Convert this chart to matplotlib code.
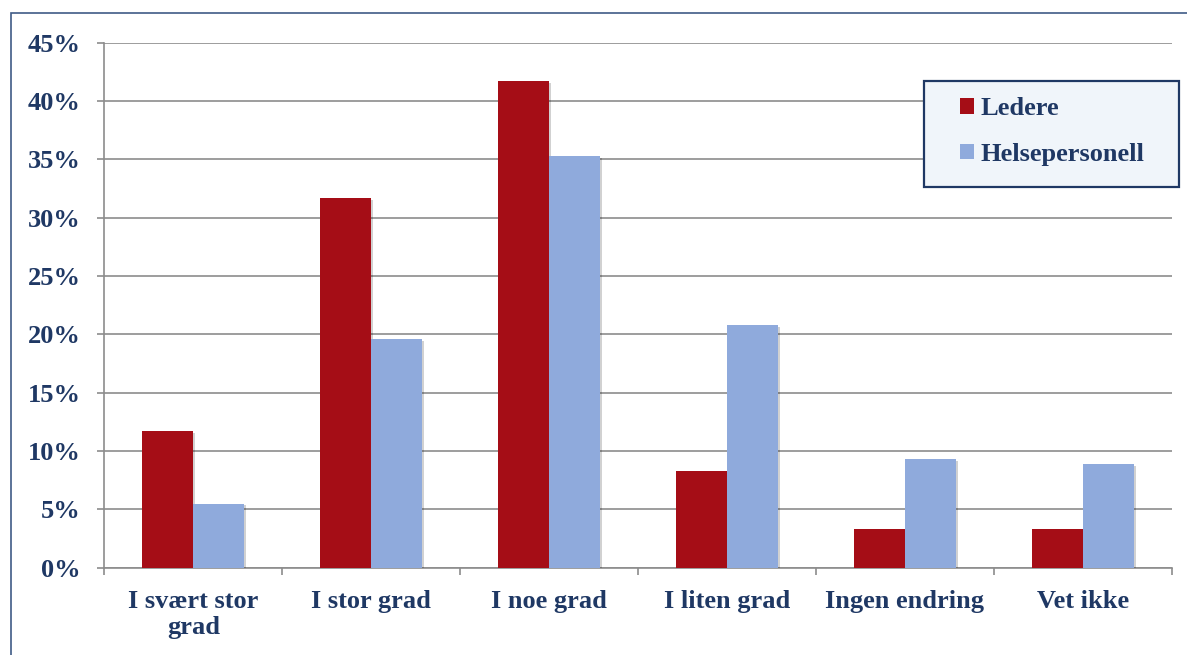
import matplotlib
matplotlib.use("Agg")
import matplotlib.pyplot as plt
import matplotlib.patheffects as pe
from matplotlib.patches import Rectangle
from matplotlib.ticker import FixedLocator, FuncFormatter
import numpy as np

categories = ["I svært stor\ngrad", "I stor grad", "I noe grad",
              "I liten grad", "Ingen endring", "Vet ikke"]
ledere = [11.7, 31.7, 41.7, 8.3, 3.3, 3.3]
helsepersonell = [5.5, 19.6, 35.3, 20.8, 9.3, 8.9]
series_names = ["Ledere", "Helsepersonell"]
yticks = [0, 5, 10, 15, 20, 25, 30, 35, 40, 45]

RED = "#A50D16"
BLUE = "#8FAADC"
NAVY = "#1F3864"
GRID = "#8C8C8C"
FONT = "Liberation Serif"
FS = 19

W, H = 1187, 655
fig = plt.figure(figsize=(W / 100, H / 100), dpi=100)
ax = fig.add_axes([104.3 / W, 1 - 567.7 / H, (1171.7 - 104.3) / W, (567.7 - 42.7) / H])

x = np.arange(len(categories))
bw = 0.2867
shadow = [pe.SimplePatchShadow(offset=(1.5, -1.2), shadow_rgbFace="black", alpha=0.18), pe.Normal()]
b1 = ax.bar(x - bw / 2, ledere, bw, color=RED, label=series_names[0], zorder=3)
b2 = ax.bar(x + bw / 2, helsepersonell, bw, color=BLUE, label=series_names[1], zorder=3)
for bar in list(b1) + list(b2):
    bar.set_path_effects(shadow)

ax.set_xlim(-0.5, len(categories) - 0.5)
ax.set_ylim(0, 45)
ax.set_yticks(yticks)
ax.yaxis.set_major_formatter(FuncFormatter(lambda v, p: f"{int(v)}%"))
ax.grid(axis="y", color=GRID, lw=1.2, zorder=0)
ax.set_axisbelow(True)

for s in ["top", "right"]:
    ax.spines[s].set_visible(False)
for s in ["left", "bottom"]:
    ax.spines[s].set_color(GRID)
    ax.spines[s].set_linewidth(1.2)

ax.tick_params(axis="y", direction="out", length=5, width=1.2, color=GRID, pad=12,
               labelsize=FS, labelcolor=NAVY)
ax.set_xticks(x)
ax.set_xticklabels(categories, linespacing=1.15)
ax.tick_params(axis="x", which="major", length=0, pad=16, labelsize=FS, labelcolor=NAVY)
ax.xaxis.set_minor_locator(FixedLocator(np.arange(-0.5, len(categories), 1.0)))
ax.tick_params(axis="x", which="minor", direction="out", length=5, width=1.2, color=GRID)

for lab in ax.get_xticklabels() + ax.get_yticklabels():
    lab.set_fontfamily(FONT)
    lab.set_fontweight("bold")

# legend box
fig.add_artist(Rectangle((924.3 / W, 1 - 186.7 / H), (1179.3 - 924.3) / W, (186.7 - 80.7) / H,
                         transform=fig.transFigure, facecolor="#F0F5FA", edgecolor="#1F3864",
                         lw=1.6, zorder=5))
leg = fig.legend(handles=[b1, b2], labels=series_names, loc="center left",
                 bbox_to_anchor=(960 / W, 1 - 131.5 / H), bbox_transform=fig.transFigure,
                 frameon=False, borderpad=0, borderaxespad=0,
                 handlelength=0.53, handleheight=0.53, handletextpad=0.25,
                 labelspacing=0.85, prop={"family": FONT, "weight": "bold", "size": FS})
leg.set_zorder(6)
for t in leg.get_texts():
    t.set_color(NAVY)
for h in leg.legend_handles:
    h.set_path_effects([])

# outer chart frame
fig.add_artist(Rectangle((11 / W, -0.2), 1.3, 1.2 - 13 / H,
                         transform=fig.transFigure, fill=False, edgecolor="#3F5B86", lw=1.2))

fig.savefig("out.png", dpi=100)
